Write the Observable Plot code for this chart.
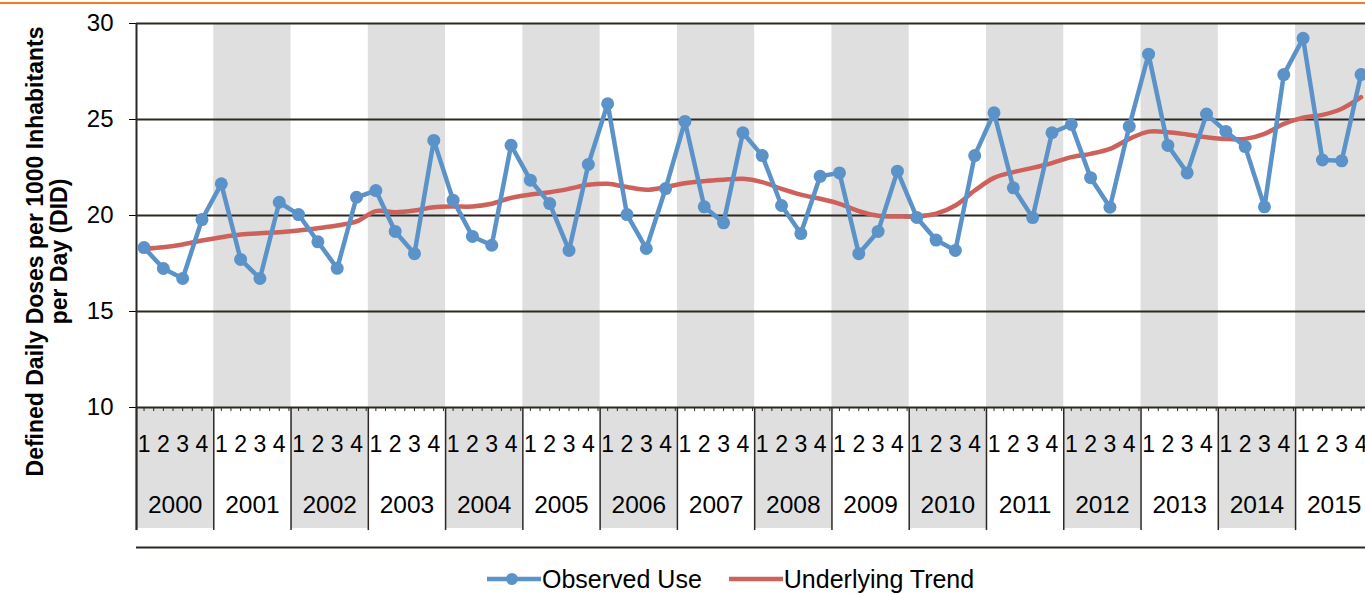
<!DOCTYPE html>
<html>
<head>
<meta charset="utf-8">
<script src="https://cdn.jsdelivr.net/npm/d3@7"></script>
<script src="https://cdn.jsdelivr.net/npm/@observablehq/plot@0.6"></script>
<style>
  html, body { margin: 0; padding: 0; background: #fff; overflow: hidden; width: 1365px; height: 594px; }
  #wrap { position: relative; width: 1365px; height: 594px; font-family: "Liberation Sans", Arial, sans-serif; }
  #topline { position: absolute; left: 0; top: 2px; width: 1365px; height: 2px; background: #f47b20; }
  #legend { position: absolute; left: 487px; top: 565px; display: flex; align-items: center; font-size: 25px; line-height: 28px; color: #000; white-space: nowrap; }
  #legend .item { display: flex; align-items: center; }
  #legend svg { display: block; }
</style>
</head>
<body>
<div id="wrap">
  <div id="chart"></div>
  <div id="legend"></div>
  <div id="topline"></div>
</div>
<script>
// ---------- data ----------
const years = [2000, 2001, 2002, 2003, 2004, 2005, 2006, 2007, 2008, 2009, 2010, 2011, 2012, 2013, 2014, 2015];
const quarterLabels = ["1", "2", "3", "4"];
const yTicks = [10, 15, 20, 25, 30];
const seriesNames = ["Observed Use", "Underlying Trend"];
const yTitleLines = ["Defined Daily Doses per 1000 Inhabitants", "per Day (DID)"];

// Observed use, quarterly (2000 Q1 ... 2015 Q4)
const observed = [
  18.33, 17.24, 16.72, 19.79,
  21.65, 17.71, 16.72, 20.69,
  20.05, 18.63, 17.25, 20.95,
  21.30, 19.17, 18.01, 23.91,
  20.80, 18.91, 18.45, 23.66,
  21.84, 20.62, 18.18, 22.66,
  25.82, 20.05, 18.28, 21.40,
  24.90, 20.45, 19.62, 24.31,
  23.12, 20.52, 19.06, 22.04,
  22.22, 18.01, 19.17, 22.31,
  19.90, 18.72, 18.18, 23.12,
  25.35, 21.44, 19.89, 24.31,
  24.74, 21.97, 20.43, 24.64,
  28.40, 23.65, 22.22, 25.28,
  24.38, 23.59, 20.45, 27.34,
  29.23, 22.89, 22.85, 27.34
];

// Underlying trend, quarterly
const trend = [
  18.27, 18.35, 18.49, 18.70,
  18.87, 19.01, 19.08, 19.13,
  19.22, 19.34, 19.48, 19.69,
  20.23, 20.17, 20.26, 20.43,
  20.47, 20.47, 20.61, 20.92,
  21.09, 21.21, 21.39, 21.60,
  21.65, 21.48, 21.34, 21.48,
  21.68, 21.79, 21.86, 21.91,
  21.74, 21.39, 21.09, 20.87,
  20.61, 20.23, 19.99, 19.95,
  19.95, 20.09, 20.52, 21.30,
  21.96, 22.26, 22.48, 22.73,
  23.04, 23.21, 23.47, 23.99,
  24.37, 24.34, 24.22, 24.08,
  23.99, 23.99, 24.25, 24.77,
  25.09, 25.24, 25.56, 26.16
];

// ---------- styling / layout ----------
const BLUE = "#5b93c9";
const RED = "#cd615b";
const BAND = "#dfdfdf";
const INK = "#2d2823";

const YEAR_START = -0.39;      // year boundary in quarter-index units
const X_END = 63.23;           // right edge of visible plot
const AXIS_BOX_BOTTOM = 3.70;  // bottom of the category-axis boxes (y units)
const DIVIDER_BOTTOM = 3.59;   // bottom of the year dividers (y units)
const BOTTOM_LINE = 2.71;      // line below the category axis (y units)
const MINOR_TICK = 9.79;       // minor tick length (y units)

// ---------- derived tables ----------
const points = observed.map((v, i) => ({i, v, t: trend[i]}));
const quarterCells = years.flatMap((yr, k) => quarterLabels.map((q, j) => ({i: 4 * k + j, q})));
const yearStart = yr => 4 * (yr - years[0]) + YEAR_START;
const oddYears = years.filter(y => y % 2 === 1);
const evenYears = years.filter(y => y % 2 === 0);
const boundaries = years.map(yearStart).concat([yearStart(years[years.length - 1] + 1)]);
const minorTicks = d3.range(0, observed.length * 2).map(k => k / 2);

const chart = Plot.plot({
  width: 1365,
  height: 556,
  marginLeft: 136,
  marginRight: 0,
  marginTop: 23,
  marginBottom: 149,
  style: {fontFamily: "'Liberation Sans', Arial, sans-serif", fontSize: "24px", color: "#000", background: "transparent", overflow: "visible"},
  x: {domain: [YEAR_START, X_END], axis: null},
  y: {domain: [10, 30], ticks: yTicks, tickSize: 7, tickPadding: 16, tickFormat: d => String(d), label: null},
  marks: [
    // alternating year bands in plot area
    Plot.rect(oddYears, {x1: yearStart, x2: y => yearStart(y) + 4, y1: 10, y2: 30, fill: BAND}),
    // alternating boxes in the category axis
    Plot.rect(evenYears, {x1: yearStart, x2: y => yearStart(y) + 4, y1: 10, y2: AXIS_BOX_BOTTOM, fill: BAND}),
    // gridlines
    Plot.ruleY(yTicks, {stroke: INK, strokeWidth: 1.8}),
    // minor ticks on the category axis
    Plot.ruleX(minorTicks, {y1: 10, y2: MINOR_TICK, stroke: INK, strokeWidth: 1}),
    // year dividers
    Plot.ruleX(boundaries, {y1: 10, y2: DIVIDER_BOTTOM, stroke: INK, strokeWidth: 1.5}),
    // left axis line
    Plot.ruleX([YEAR_START], {y1: 30, y2: DIVIDER_BOTTOM, stroke: INK, strokeWidth: 2}),
    // bottom line
    Plot.ruleY([BOTTOM_LINE], {stroke: INK, strokeWidth: 2}),
    // quarter labels
    Plot.text(quarterCells, {x: "i", text: "q", frameAnchor: "bottom", lineAnchor: "middle", dy: 37, fontSize: 23, fill: "#000"}),
    // year labels
    Plot.text(years, {x: y => yearStart(y) + 2, text: y => String(y), frameAnchor: "bottom", lineAnchor: "middle", dy: 98, fontSize: 24.5, fill: "#000"}),
    // y-axis title (two lines)
    Plot.text([yTitleLines[0]], {text: d => d, frameAnchor: "left", textAnchor: "middle", lineAnchor: "middle", rotate: -90, dx: -100.5, dy: 36, fontSize: 23, fontWeight: "bold", fill: "#000"}),
    Plot.text([yTitleLines[1]], {text: d => d, frameAnchor: "left", textAnchor: "middle", lineAnchor: "middle", rotate: -90, dx: -76.5, dy: 36, fontSize: 23, fontWeight: "bold", fill: "#000"}),
    // series
    Plot.line(points, {x: "i", y: "t", stroke: RED, strokeWidth: 4.5, curve: "catmull-rom"}),
    Plot.line(points, {x: "i", y: "v", stroke: BLUE, strokeWidth: 4.5}),
    Plot.dot(points, {x: "i", y: "v", r: 6.5, fill: BLUE, stroke: "none"})
  ]
});
document.getElementById("chart").appendChild(chart);

// ---------- legend ----------
const legend = document.getElementById("legend");
function swatch(color, withDot, width) {
  const ns = "http://www.w3.org/2000/svg";
  const s = document.createElementNS(ns, "svg");
  s.setAttribute("width", 54); s.setAttribute("height", 28);
  const l = document.createElementNS(ns, "line");
  l.setAttribute("x1", 0); l.setAttribute("x2", 54); l.setAttribute("y1", 14); l.setAttribute("y2", 14);
  l.setAttribute("stroke", color); l.setAttribute("stroke-width", width);
  s.appendChild(l);
  if (withDot) {
    const c = document.createElementNS(ns, "circle");
    c.setAttribute("cx", 25); c.setAttribute("cy", 14); c.setAttribute("r", 6);
    c.setAttribute("fill", color);
    s.appendChild(c);
  }
  return s;
}
[[seriesNames[0], BLUE, true], [seriesNames[1], RED, false]].forEach(([name, color, dot], k) => {
  const item = document.createElement("div");
  item.className = "item";
  if (k > 0) item.style.marginLeft = "27px";
  item.appendChild(swatch(color, dot, 4.5));
  const t = document.createElement("span");
  t.textContent = name;
  t.style.marginLeft = "1px";
  item.appendChild(t);
  legend.appendChild(item);
});
</script>
</body>
</html>
